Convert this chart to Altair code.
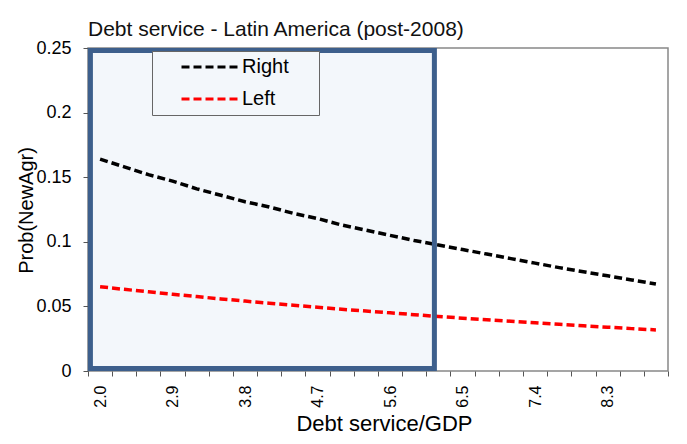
import altair as alt
import pandas as pd

# Debt service / GDP categories
ds_gdp = [2.0, 2.3, 2.6, 2.9, 3.2, 3.5, 3.8, 4.1, 4.4, 4.7, 5.0, 5.3,
          5.6, 5.9, 6.2, 6.5, 6.8, 7.1, 7.4, 7.7, 8.0, 8.3, 8.6, 8.9]
right = [0.164, 0.158, 0.152, 0.147, 0.141, 0.136, 0.131, 0.127, 0.122, 0.118,
         0.113, 0.109, 0.105, 0.101, 0.0975, 0.094, 0.0905, 0.087, 0.0835, 0.080,
         0.0768, 0.0737, 0.0705, 0.0673]
left = [0.0652, 0.0632, 0.0613, 0.0594, 0.0576, 0.0558, 0.0541, 0.0525, 0.0509, 0.0493,
        0.0478, 0.0464, 0.0450, 0.0436, 0.0422, 0.0409, 0.0397, 0.0385, 0.0373, 0.0361,
        0.0350, 0.0339, 0.0328, 0.0318]
series_names = ["Right", "Left"]
series_colors = ["#000000", "#FF0000"]
x_labels = [2.0, 2.9, 3.8, 4.7, 5.6, 6.5, 7.4, 8.3]
y_ticks = [0, 0.05, 0.1, 0.15, 0.2, 0.25]
band_x = [1.88, 6.15]
band_y = [0.002, 0.248]

half = 0.15
x_domain = [ds_gdp[0] - half, ds_gdp[-1] + half]
x_bounds = [round(v - half, 2) for v in ds_gdp] + [round(ds_gdp[-1] + half, 2)]

lines = pd.DataFrame({
    "x": ds_gdp * 2,
    "value": right + left,
    "series": ["Right"] * len(ds_gdp) + ["Left"] * len(ds_gdp),
})
band = pd.DataFrame({"x0": [band_x[0]], "x1": [band_x[1]],
                     "y0": [band_y[0]], "y1": [band_y[1]]})

FONT = "Liberation Sans"
xscale = alt.Scale(domain=x_domain, nice=False, zero=False)
yscale = alt.Scale(domain=[0, 0.25], nice=False, zero=True)

y_axis = alt.Axis(values=y_ticks, format="~g", grid=False, domain=False,
                  tickSize=5, tickColor="#555555", labelPadding=12,
                  labelFontSize=18, labelColor="#000000", labelFont=FONT,
                  title="Prob(NewAgr)", titleFontSize=20, titleFontWeight="normal",
                  titleFont=FONT, titleColor="#000000",
                  titleX=-62, titleY=162, titleAlign="center", titleBaseline="middle")

tick_axis = alt.Axis(orient="bottom", values=x_bounds, labels=False, domain=False,
                     grid=False, tickSize=5, tickColor="#555555", title=None)

label_axis = alt.Axis(orient="bottom", values=x_labels, format=".1f", ticks=False,
                      tickSize=0, domain=False, grid=False, labelAngle=-90,
                      labelPadding=14, labelFontSize=16, labelColor="#000000",
                      labelFont=FONT, title="Debt service/GDP", titleFontSize=22,
                      titleFontWeight="normal", titleFont=FONT, titleColor="#000000",
                      titleX=296, titleY=59, titleAlign="center",
                      titleBaseline="alphabetic")

fill_layer = alt.Chart(band).mark_rect(fill="#F3F7FB", stroke=None).encode(
    x=alt.X("x0:Q", scale=xscale, axis=tick_axis),
    x2="x1:Q",
    y=alt.Y("y0:Q", scale=yscale, axis=y_axis),
    y2="y1:Q",
)

line_layer = alt.Chart(lines).mark_line(strokeDash=[8, 4], strokeWidth=3.5).encode(
    x=alt.X("x:Q", scale=xscale, axis=label_axis),
    y=alt.Y("value:Q", scale=yscale, axis=y_axis),
    color=alt.Color(
        "series:N",
        scale=alt.Scale(domain=series_names, range=series_colors),
        legend=alt.Legend(
            title="MM", titleOrient="right", titleOpacity=0, titleFontSize=16,
            titlePadding=0,
            orient="none", legendX=64, legendY=3,
            fillColor="#F3F7FB", strokeColor="#666666", padding=3,
            symbolType="stroke", symbolSize=3249, symbolStrokeWidth=3,
            symbolDash=[8, 4], symbolOffset=25, clipHeight=26, rowPadding=6,
            labelFontSize=20, labelFont=FONT, labelColor="#000000", labelOffset=2,
        ),
    ),
)

border_layer = alt.Chart(band).mark_rect(fillOpacity=0, stroke="#3D5F8C",
                                         strokeWidth=5).encode(
    x=alt.X("x0:Q", scale=xscale, axis=None),
    x2="x1:Q",
    y=alt.Y("y0:Q", scale=yscale, axis=y_axis),
    y2="y1:Q",
)

chart = alt.layer(fill_layer, line_layer, border_layer).resolve_axis(
    x="independent"
).properties(
    width=580,
    height=323,
    padding={"left": 80, "top": 40, "right": 11, "bottom": 65},
    autosize=alt.AutoSizeParams(type="none"),
    title=alt.TitleParams("Debt service - Latin America (post-2008)", anchor="start",
                          frame="group", fontSize=21, fontWeight="normal", font=FONT,
                          color="#111111", offset=0, dy=1),
).configure(
    background="white",
    view=alt.ViewConfig(stroke="#888888", strokeWidth=1.5),
)

chart.save("out.html", embed_options={"renderer": "svg", "actions": False})
